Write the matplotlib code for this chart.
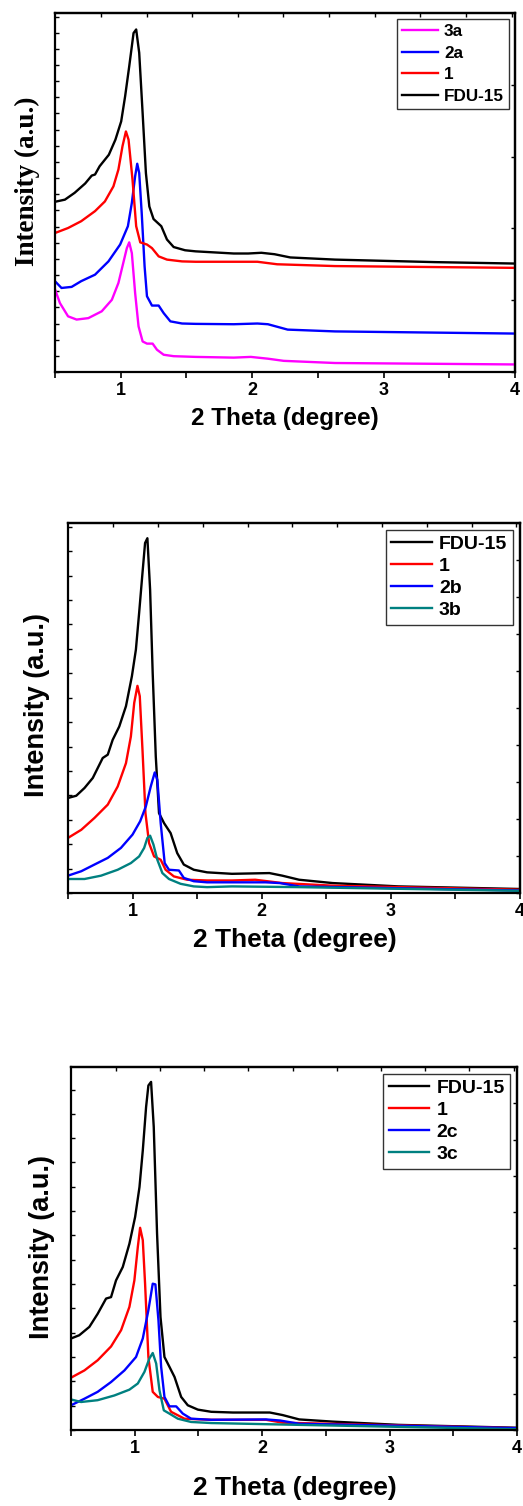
import matplotlib
matplotlib.use("Agg")
import matplotlib.pyplot as plt
from matplotlib.ticker import MultipleLocator, FixedLocator, NullFormatter
import numpy as np

# ---- panel 1 (a series) ----
p1_fdu_x = [0.50, 0.576, 0.65, 0.73, 0.78, 0.805, 0.84, 0.91, 0.96, 1.004, 1.034, 1.065, 1.098, 1.118, 1.141, 1.167, 1.192, 1.218, 1.25, 1.309, 1.352, 1.403, 1.49, 1.57, 1.86, 1.97, 2.07, 2.17, 2.29, 2.63, 3.39, 4.0]
p1_fdu_y = [47.4, 48.0, 49.9, 52.5, 54.7, 55.0, 57.3, 60.5, 64.7, 69.8, 76.8, 85.1, 94.4, 95.4, 88.9, 72.1, 55.4, 46.1, 42.6, 40.6, 36.9, 34.8, 33.9, 33.6, 33.0, 33.0, 33.2, 32.8, 31.9, 31.3, 30.6, 30.2]
p1_one_x = [0.50, 0.60, 0.70, 0.805, 0.88, 0.945, 0.983, 1.014, 1.04, 1.06, 1.09, 1.118, 1.149, 1.20, 1.238, 1.289, 1.352, 1.467, 1.57, 1.86, 2.04, 2.19, 2.63, 4.0]
p1_one_y = [38.7, 40.1, 42.0, 44.8, 47.5, 51.7, 56.4, 62.9, 67.0, 64.7, 53.6, 40.6, 36.1, 35.5, 34.5, 32.2, 31.3, 30.8, 30.7, 30.7, 30.7, 30.0, 29.5, 29.0]
p1_2a_x = [0.50, 0.55, 0.627, 0.70, 0.805, 0.907, 0.996, 1.055, 1.085, 1.11, 1.126, 1.141, 1.16, 1.182, 1.20, 1.238, 1.289, 1.327, 1.378, 1.467, 1.57, 1.86, 2.04, 2.12, 2.27, 2.63, 4.0]
p1_2a_y = [25.3, 23.4, 23.7, 25.3, 27.1, 30.8, 35.5, 40.6, 47.1, 54.5, 58.0, 55.4, 44.3, 29.4, 21.1, 18.5, 18.5, 16.4, 14.1, 13.5, 13.4, 13.3, 13.5, 13.3, 11.8, 11.3, 10.7]
p1_3a_x = [0.50, 0.538, 0.60, 0.665, 0.754, 0.856, 0.933, 0.983, 1.02, 1.047, 1.065, 1.085, 1.11, 1.136, 1.167, 1.20, 1.243, 1.276, 1.327, 1.403, 1.57, 1.86, 1.99, 2.12, 2.24, 2.63, 4.0]
p1_3a_y = [23.1, 19.2, 15.5, 14.6, 15.0, 16.9, 20.1, 24.8, 30.4, 34.5, 36.1, 33.1, 22.0, 12.7, 8.5, 7.9, 7.9, 6.2, 4.8, 4.4, 4.2, 4.0, 4.2, 3.7, 3.1, 2.5, 2.1]

# ---- panel 2 (b series) ----
p2_fdu_x = [0.50, 0.564, 0.628, 0.692, 0.769, 0.808, 0.846, 0.897, 0.949, 0.995, 1.026, 1.051, 1.077, 1.097, 1.115, 1.136, 1.156, 1.18, 1.205, 1.244, 1.295, 1.346, 1.397, 1.474, 1.577, 1.77, 2.06, 2.16, 2.29, 2.55, 3.06, 4.0]
p2_fdu_y = [25.7, 26.3, 28.4, 31.1, 36.5, 37.4, 41.4, 45.0, 50.5, 58.6, 65.8, 75.7, 86.5, 94.6, 95.9, 82.0, 59.5, 36.9, 21.6, 18.9, 16.2, 10.8, 7.7, 6.3, 5.6, 5.2, 5.4, 4.7, 3.6, 2.7, 1.8, 1.1]
p2_one_x = [0.50, 0.603, 0.705, 0.808, 0.885, 0.949, 0.987, 1.013, 1.038, 1.056, 1.077, 1.10, 1.128, 1.167, 1.218, 1.256, 1.32, 1.423, 1.577, 1.77, 1.95, 2.16, 2.55, 4.0]
p2_one_y = [14.9, 17.1, 20.3, 23.9, 28.8, 35.1, 42.3, 51.4, 56.0, 53.2, 38.7, 21.6, 13.5, 9.9, 9.0, 6.3, 4.5, 3.6, 3.4, 3.4, 3.6, 2.7, 2.0, 0.9]
p2_2b_x = [0.50, 0.603, 0.705, 0.808, 0.91, 1.00, 1.059, 1.103, 1.141, 1.172, 1.192, 1.218, 1.249, 1.282, 1.359, 1.397, 1.474, 1.577, 2.03, 2.14, 2.29, 4.0]
p2_2b_y = [4.7, 5.9, 7.7, 9.5, 12.2, 15.8, 19.4, 23.4, 28.8, 32.6, 30.6, 18.9, 8.1, 6.3, 6.1, 4.1, 3.2, 2.9, 2.9, 2.7, 1.8, 0.7]
p2_3b_x = [0.50, 0.628, 0.756, 0.885, 0.987, 1.051, 1.09, 1.115, 1.136, 1.162, 1.192, 1.231, 1.282, 1.372, 1.474, 1.577, 1.77, 2.29, 4.0]
p2_3b_y = [3.8, 3.8, 4.7, 6.3, 8.1, 9.9, 12.2, 14.9, 15.5, 13.1, 9.0, 5.4, 3.8, 2.5, 1.8, 1.6, 1.8, 1.6, 0.6]

# ---- panel 3 (c series) ----
p3_fdu_x = [0.50, 0.565, 0.644, 0.709, 0.775, 0.814, 0.853, 0.906, 0.958, 1.003, 1.037, 1.063, 1.089, 1.107, 1.128, 1.149, 1.175, 1.202, 1.233, 1.272, 1.312, 1.364, 1.416, 1.495, 1.60, 1.77, 2.06, 2.16, 2.29, 2.55, 3.07, 4.0]
p3_fdu_y = [25.2, 26.1, 28.4, 32.0, 36.2, 36.6, 41.2, 44.9, 51.3, 58.7, 66.9, 77.0, 89.0, 94.9, 95.9, 83.5, 54.1, 31.1, 20.1, 17.4, 14.6, 9.1, 6.8, 5.6, 5.0, 4.8, 4.8, 4.1, 2.9, 2.3, 1.4, 0.6]
p3_one_x = [0.50, 0.605, 0.709, 0.814, 0.893, 0.958, 0.997, 1.024, 1.042, 1.063, 1.081, 1.107, 1.141, 1.181, 1.233, 1.285, 1.39, 1.60, 2.03, 2.16, 4.0]
p3_one_y = [14.4, 16.4, 19.2, 23.0, 27.5, 33.9, 41.2, 50.4, 55.7, 52.3, 40.3, 20.1, 10.5, 9.1, 8.6, 5.0, 3.1, 2.8, 2.8, 2.0, 0.5]
p3_2c_x = [0.50, 0.605, 0.709, 0.814, 0.919, 1.01, 1.063, 1.107, 1.141, 1.162, 1.186, 1.207, 1.233, 1.272, 1.325, 1.377, 1.442, 1.60, 2.03, 2.14, 2.29, 4.0]
p3_2c_y = [6.8, 8.6, 10.5, 13.2, 16.4, 20.1, 25.2, 33.0, 40.3, 40.1, 30.2, 17.4, 9.1, 6.5, 6.5, 4.5, 3.1, 2.8, 2.9, 2.6, 1.7, 0.5]
p3_3c_x = [0.50, 0.579, 0.709, 0.84, 0.958, 1.024, 1.076, 1.115, 1.141, 1.168, 1.194, 1.228, 1.272, 1.338, 1.442, 1.60, 2.29, 4.0]
p3_3c_y = [8.4, 7.7, 8.2, 9.5, 11.1, 12.8, 16.0, 19.7, 21.2, 18.3, 10.9, 5.4, 4.5, 3.1, 2.2, 1.9, 1.4, 0.2]

MAGENTA = "#FF00FF"
BLUE = "#0000FF"
RED = "#FF0000"
TEAL = "#008080"
SANS = "Liberation Sans"
SERIF = "Liberation Serif"
LW = 1.7

fig = plt.figure(figsize=(5.23, 15.06), dpi=100)

def style_axes(ax, ytick_step, right_step):
    ax.set_xlim(0.5, 4)
    ax.set_ylim(0, 100)
    for s in ax.spines.values():
        s.set_linewidth(1.6)
    ax.xaxis.set_major_locator(MultipleLocator(1))
    ax.xaxis.set_minor_locator(MultipleLocator(0.5))
    ax.tick_params(axis="x", which="both", direction="out", length=4, width=1.2,
                   top=False, labelsize=13, pad=3)
    ax.yaxis.set_major_locator(MultipleLocator(ytick_step))
    ax.yaxis.set_major_formatter(NullFormatter())
    ax.tick_params(axis="y", which="major", direction="in", length=3, width=1)
    for lab in ax.get_xticklabels():
        lab.set_fontfamily(SANS)
        lab.set_fontweight("bold")
    # extra ticks on top and right
    sec = ax.secondary_yaxis("right")
    sec.yaxis.set_major_locator(MultipleLocator(right_step))
    sec.yaxis.set_major_formatter(NullFormatter())
    sec.tick_params(direction="in", length=3, width=1)
    sec.spines["right"].set_linewidth(1.6)
    top = ax.secondary_xaxis("top")
    top.xaxis.set_major_locator(FixedLocator(np.arange(0.85, 4.0, 0.347)))
    top.xaxis.set_major_formatter(NullFormatter())
    top.tick_params(direction="in", length=3, width=1)
    top.spines["top"].set_linewidth(1.6)

def add_legend(ax, fs, spacing):
    leg = ax.legend(loc="upper right", frameon=True, fancybox=False,
                    handlelength=2.1, handletextpad=0.35, labelspacing=spacing,
                    borderpad=0.3, borderaxespad=0.35,
                    prop={"family": SANS, "weight": "bold", "size": fs})
    leg.get_frame().set_edgecolor("black")
    leg.get_frame().set_linewidth(1.0)

def place_labels(ax, xl, yl, xfam, yfam, xfs, yfs):
    ax.set_xlabel("2 Theta (degree)", fontfamily=xfam, fontweight="bold", fontsize=xfs)
    ax.set_ylabel("Intensity (a.u.)", fontfamily=yfam, fontweight="bold", fontsize=yfs)
    ax.xaxis.label.set_va("center")
    ax.yaxis.label.set_va("center")
    ax.xaxis.set_label_coords(*xl)
    ax.yaxis.set_label_coords(*yl)

# Panel 1
ax1 = fig.add_axes([0.105, 0.7530, 0.880, 0.2384])
ax1.plot(p1_3a_x, p1_3a_y, color=MAGENTA, lw=LW, label="3a")
ax1.plot(p1_2a_x, p1_2a_y, color=BLUE, lw=LW, label="2a")
ax1.plot(p1_one_x, p1_one_y, color=RED, lw=LW, label="1")
ax1.plot(p1_fdu_x, p1_fdu_y, color="black", lw=LW, label="FDU-15")
style_axes(ax1, 4.5, 20)
add_legend(ax1, 12.3, 0.38)
place_labels(ax1, (0.50, -0.13), (-0.06, 0.532), SANS, SERIF, 17.5, 19.5)

# Panel 2
ax2 = fig.add_axes([0.130, 0.4070, 0.864, 0.2457])
ax2.plot(p2_fdu_x, p2_fdu_y, color="black", lw=LW, label="FDU-15")
ax2.plot(p2_one_x, p2_one_y, color=RED, lw=LW, label="1")
ax2.plot(p2_2b_x, p2_2b_y, color=BLUE, lw=LW, label="2b")
ax2.plot(p2_3b_x, p2_3b_y, color=TEAL, lw=LW, label="3b")
style_axes(ax2, 6.6, 10)
add_legend(ax2, 14, 0.22)
place_labels(ax2, (0.502, -0.127), (-0.069, 0.507), SANS, SANS, 19, 19.5)

# Panel 3
ax3 = fig.add_axes([0.1358, 0.0505, 0.853, 0.2410])
ax3.plot(p3_fdu_x, p3_fdu_y, color="black", lw=LW, label="FDU-15")
ax3.plot(p3_one_x, p3_one_y, color=RED, lw=LW, label="1")
ax3.plot(p3_2c_x, p3_2c_y, color=BLUE, lw=LW, label="2c")
ax3.plot(p3_3c_x, p3_3c_y, color=TEAL, lw=LW, label="3c")
style_axes(ax3, 6.7, 10)
add_legend(ax3, 14, 0.22)
place_labels(ax3, (0.502, -0.16), (-0.065, 0.504), SANS, SANS, 19, 19.5)

fig.savefig("out.png", dpi=100)
